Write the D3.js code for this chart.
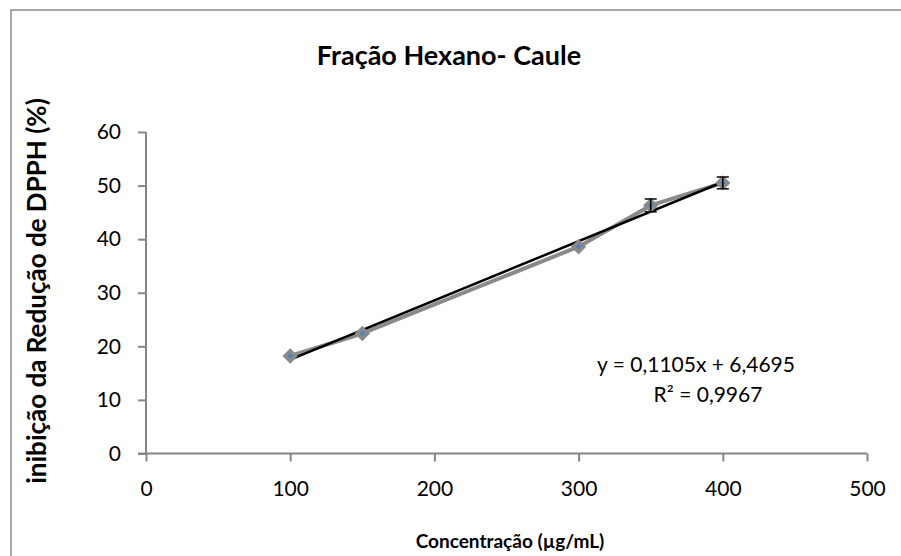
<!DOCTYPE html>
<html>
<head>
<meta charset="utf-8">
<script src="https://cdn.jsdelivr.net/npm/d3@7"></script>
<style>
  body { margin: 0; background: #fff; }
  svg text { font-family: Lato, "Open Sans", sans-serif; fill: #000; }
</style>
</head>
<body>
<svg id="chart" width="901" height="556"></svg>
<script>
// data
const conc    = [100, 150, 300, 350, 400];
const inhib   = [18.2, 22.4, 38.6, 46.3, 50.5];
const errs    = [0, 0, 0, 1.2, 1.1];
const xTicks  = [0, 100, 200, 300, 400, 500];
const yTicks  = [0, 10, 20, 30, 40, 50, 60];
const slope = 0.1105, intercept = 6.4695;
const eqText = "y = 0,1105x + 6,4695";
const r2Text = "R² = 0,9967";

const axisGrey = "#868686";

const svg = d3.select("#chart");

// outer frame (cut at right/bottom edges like the source)
svg.append("rect")
  .attr("x", 11).attr("y", 10)
  .attr("width", 900).attr("height", 560)
  .attr("fill", "none")
  .attr("stroke", "#8c8c8c")
  .attr("stroke-width", 1.5);

const x = d3.scaleLinear().domain([0, 500]).range([146, 867]);
const y = d3.scaleLinear().domain([0, 60]).range([453.5, 132]);

// axes
const xAxis = d3.axisBottom(x).tickValues(xTicks).tickSize(8).tickPadding(20).tickFormat(d3.format("d"));
const yAxis = d3.axisLeft(y).tickValues(yTicks).tickSize(8).tickPadding(17).tickFormat(d3.format("d"));

const gx = svg.append("g").attr("transform", `translate(0,${y(0)})`).call(xAxis);
const gy = svg.append("g").attr("transform", `translate(${x(0)},0)`).call(yAxis);

[gx, gy].forEach(g => {
  g.selectAll("path, line").attr("stroke", axisGrey).attr("stroke-width", 2);
  g.select(".domain").attr("d", g === gx
    ? `M${x(0) - 8},0H${x(500)}`
    : `M0,${y(0)}V${y(60)}`);
  g.selectAll("text").attr("font-size", 21).attr("font-family", "Lato, sans-serif").attr("fill", "#000");
});

// data line
const pts = conc.map((c, i) => ({ c, v: inhib[i], e: errs[i] }));
svg.append("path")
  .datum(pts)
  .attr("fill", "none")
  .attr("stroke", "#8a8a8a")
  .attr("stroke-width", 4)
  .attr("stroke-linejoin", "round")
  .attr("d", d3.line().x(d => x(d.c)).y(d => y(d.v)));

// trend line
const trend = [d3.min(conc), d3.max(conc)].map(c => ({ c, v: slope * c + intercept }));
svg.append("path")
  .datum(trend)
  .attr("fill", "none")
  .attr("stroke", "#000")
  .attr("stroke-width", 2.5)
  .attr("d", d3.line().x(d => x(d.c)).y(d => y(d.v)));

// markers
svg.append("g").selectAll("path")
  .data(pts)
  .enter().append("path")
  .attr("transform", d => `translate(${x(d.c)},${y(d.v)})`)
  .attr("d", d3.symbol(d3.symbolDiamond2, 70))
  .attr("fill", "#4f81bd")
  .attr("stroke", "#8a8a8a")
  .attr("stroke-width", 3.5);

// error bars
const eb = svg.append("g").selectAll("g")
  .data(pts.filter(d => d.e > 0))
  .enter().append("g")
  .attr("stroke", "#000")
  .attr("stroke-width", 1.5);
eb.append("line")
  .attr("x1", d => x(d.c)).attr("x2", d => x(d.c))
  .attr("y1", d => y(d.v + d.e)).attr("y2", d => y(d.v - d.e));
eb.append("line")
  .attr("x1", d => x(d.c) - 6).attr("x2", d => x(d.c) + 6)
  .attr("y1", d => y(d.v + d.e)).attr("y2", d => y(d.v + d.e));
eb.append("line")
  .attr("x1", d => x(d.c) - 6).attr("x2", d => x(d.c) + 6)
  .attr("y1", d => y(d.v - d.e)).attr("y2", d => y(d.v - d.e));

// equation
svg.append("text").attr("x", 696).attr("y", 372)
  .attr("text-anchor", "middle").attr("font-size", 21).text(eqText);
svg.append("text").attr("x", 708).attr("y", 402)
  .attr("text-anchor", "middle").attr("font-size", 21).text(r2Text);

// titles
svg.append("text").attr("x", 449).attr("y", 65)
  .attr("text-anchor", "middle").attr("font-size", 27).attr("font-weight", "bold")
  .text("Fração Hexano- Caule");

svg.append("text").attr("x", 510).attr("y", 548)
  .attr("text-anchor", "middle").attr("font-size", 19).attr("font-weight", "bold")
  .text("Concentração (µg/mL)");

svg.append("text")
  .attr("transform", "translate(46,291) rotate(-90)")
  .attr("text-anchor", "middle").attr("font-size", 26).attr("font-weight", "bold")
  .text("inibição da Redução de DPPH (%)");
</script>
</body>
</html>
